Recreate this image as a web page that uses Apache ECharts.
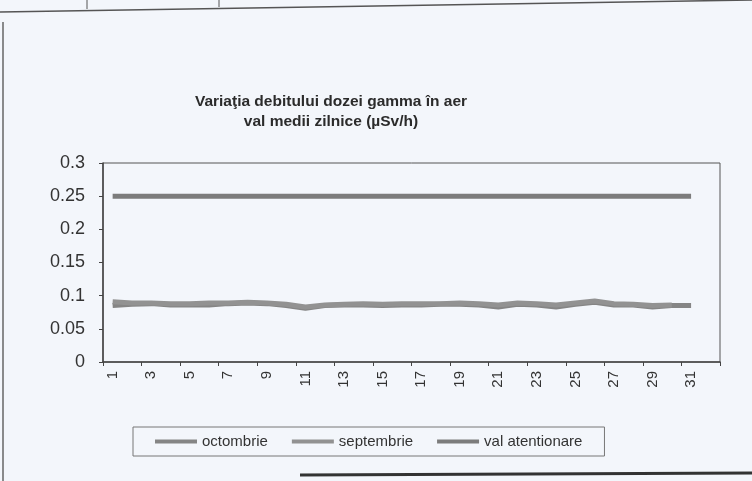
<!DOCTYPE html>
<html>
<head>
<meta charset="utf-8">
<title>Variatia debitului dozei gamma</title>
<script src="https://cdn.jsdelivr.net/npm/echarts@6/dist/echarts.min.js"></script>
<style>
    html, body { margin: 0; padding: 0; background: #f3f6fb; }
    #chart-container { width: 752px; height: 481px; }
</style>
</head>
<body>
<div id="chart-container"></div>
<script>
// zilele lunii (ultima categorie e goala, ca in Excel)
const days = ['1','2','3','4','5','6','7','8','9','10','11','12','13','14','15','16',
    '17','18','19','20','21','22','23','24','25','26','27','28','29','30','31',''];

// valori medii zilnice (µSv/h)
const octombrie = [0.085, 0.087, 0.088, 0.086, 0.086, 0.086, 0.088, 0.089, 0.088, 0.085, 0.081,
    0.085, 0.086, 0.086, 0.085, 0.086, 0.086, 0.087, 0.087, 0.086, 0.083, 0.087, 0.086, 0.083,
    0.087, 0.090, 0.086, 0.086, 0.083, 0.085, 0.085];
const septembrie = [0.091, 0.089, 0.089, 0.088, 0.088, 0.089, 0.089, 0.090, 0.089, 0.087, 0.083,
    0.086, 0.087, 0.088, 0.087, 0.088, 0.088, 0.088, 0.089, 0.088, 0.086, 0.089, 0.088, 0.086,
    0.089, 0.092, 0.088, 0.087, 0.085, 0.086];
const valAtentionare = [0.25, 0.25, 0.25, 0.25, 0.25, 0.25, 0.25, 0.25, 0.25, 0.25, 0.25,
    0.25, 0.25, 0.25, 0.25, 0.25, 0.25, 0.25, 0.25, 0.25, 0.25, 0.25, 0.25, 0.25,
    0.25, 0.25, 0.25, 0.25, 0.25, 0.25, 0.25];

const yTicks = [0, 0.05, 0.1, 0.15, 0.2, 0.25, 0.3];

const chartDom = document.getElementById('chart-container');
const myChart = echarts.init(chartDom, null, { renderer: 'canvas' });

const font = '"Liberation Sans", Arial, sans-serif';

function lineSeries(name, data, color) {
    return {
        name: name,
        type: 'line',
        data: data,
        symbol: 'none',
        smooth: false,
        animation: false,
        lineStyle: { color: color, width: 5 },
        itemStyle: { color: color }
    };
}

const option = {
    backgroundColor: '#f3f6fb',
    animation: false,
    title: {
        text: 'Variaţia debitului dozei gamma în aer\nval medii zilnice (µSv/h)',
        left: 326,
        top: 87,
        textAlign: 'center',
        textStyle: {
            fontFamily: font,
            fontSize: 15.5,
            fontWeight: 'bold',
            color: '#2b2b2b',
            lineHeight: 20
        }
    },
    legend: {
        data: ['octombrie', 'septembrie', 'val atentionare'],
        left: 133,
        top: 427,
        icon: 'rect',
        itemWidth: 42,
        itemHeight: 4,
        itemGap: 24,
        padding: [7, 22, 7, 22],
        borderColor: '#777',
        borderWidth: 1,
        textStyle: { fontFamily: font, fontSize: 15, color: '#333' }
    },
    grid: {
        left: 103,
        right: 32,
        top: 163,
        bottom: 119,
        show: true,
        borderColor: '#555',
        borderWidth: 1,
        backgroundColor: 'transparent'
    },
    xAxis: {
        type: 'category',
        data: days,
        boundaryGap: true,
        axisLine: { lineStyle: { color: '#444', width: 1.5 } },
        axisTick: { show: true, length: 4, lineStyle: { color: '#444' } },
        axisLabel: {
            interval: 1,
            rotate: 90,
            margin: 9,
            fontFamily: font,
            fontSize: 15,
            color: '#333'
        },
        splitLine: { show: false }
    },
    yAxis: {
        type: 'value',
        min: yTicks[0],
        max: yTicks[yTicks.length - 1],
        interval: 0.05,
        axisLine: { show: true, lineStyle: { color: '#444', width: 1.5 } },
        axisTick: { show: true, length: 4, lineStyle: { color: '#444' } },
        axisLabel: {
            margin: 18,
            fontFamily: font,
            fontSize: 18,
            color: '#333',
            formatter: function (v) { return String(Math.round(v * 100) / 100); }
        },
        splitLine: { show: false }
    },
    series: [
        lineSeries('octombrie', octombrie, '#858585'),
        lineSeries('septembrie', septembrie, '#929292'),
        lineSeries('val atentionare', valAtentionare, '#7c7c7c')
    ],
    // marginile paginii scanate
    graphic: [
        { type: 'line', shape: { x1: 0, y1: 12, x2: 752, y2: 0 }, style: { stroke: '#555', lineWidth: 1.5 } },
        { type: 'line', shape: { x1: 87, y1: 0, x2: 87, y2: 9 }, style: { stroke: '#555', lineWidth: 1 } },
        { type: 'line', shape: { x1: 219, y1: 0, x2: 219, y2: 7 }, style: { stroke: '#555', lineWidth: 1 } },
        { type: 'line', shape: { x1: 3, y1: 22, x2: 3, y2: 481 }, style: { stroke: '#666', lineWidth: 1.5 } },
        { type: 'line', shape: { x1: 300, y1: 475, x2: 752, y2: 473 }, style: { stroke: '#333', lineWidth: 3 } }
    ]
};

myChart.setOption(option);
</script>
</body>
</html>
